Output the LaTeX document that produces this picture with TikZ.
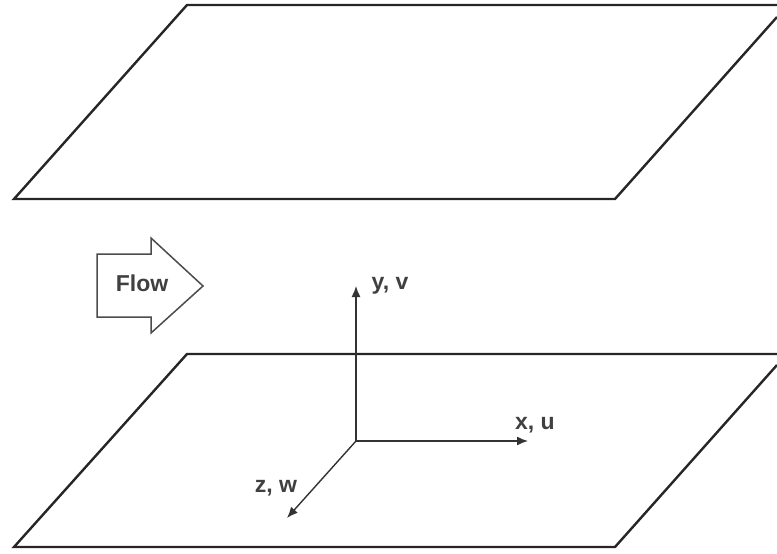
\documentclass[tikz,border=0pt]{standalone}
\usepackage{fontspec}
\usetikzlibrary{arrows.meta}
\setmainfont{Liberation Sans}
\begin{document}
\begin{tikzpicture}[x=1pt,y=-1pt,
  plate/.style={draw=black!85,line width=2.4pt,line join=miter},
  axis/.style={draw=black!80,line width=1.4pt,-{Latex[length=11pt,width=9pt]}},
  flowarrow/.style={draw=black!70,line width=1.5pt,fill=white,line join=miter},
  lab/.style={font=\bfseries\fontsize{23}{26}\selectfont,text=black!75,inner sep=0pt}]
\useasboundingbox (0,0) rectangle (777,554);
\draw[plate] (777,17) -- (615,199) -- (14,199) -- (187,5) -- (777,5);
\draw[plate] (777,365) -- (615,547) -- (14,547) -- (187,354) -- (777,354);
\draw[flowarrow] (97,254) -- (151,254) -- (151,238) -- (203,286) -- (151,333) -- (151,317) -- (97,317) -- cycle;
\node[lab] (flow) at (142,283) {Flow};
\coordinate (origin) at (356,441);
\coordinate (ytip) at (356,286);
\coordinate (xtip) at (528,441);
\coordinate (ztip) at (287,518);
\draw[axis] (origin) -- (ytip);
\draw[axis] (origin) -- (xtip);
\draw[axis] (origin) -- (ztip);
\node[lab] (ylab) at (390,286) {y, v};
\node[lab] (xlab) at (535,425) {x, u};
\node[lab] (zlab) at (276,488) {z, w};
\end{tikzpicture}
\end{document}
